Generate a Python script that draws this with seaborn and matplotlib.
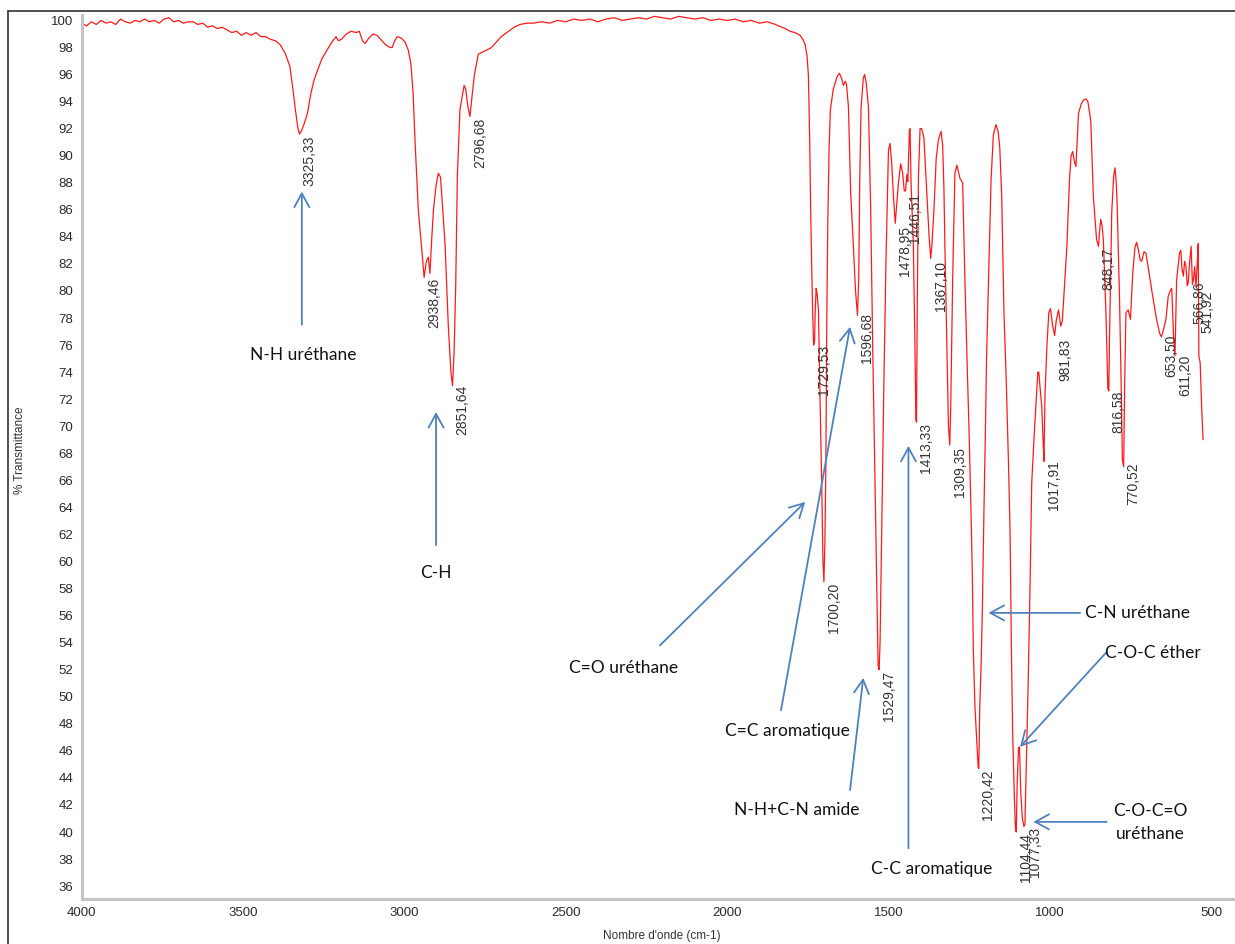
import matplotlib
matplotlib.use("Agg")
import matplotlib.pyplot as plt
from matplotlib.ticker import MultipleLocator
from matplotlib.lines import Line2D
import pandas as pd
import seaborn as sns

# -----------------------
# Spectrum
# -----------------------
wavenumber = [
    4000, 3985, 3970, 3955, 3940, 3925, 3910, 3895, 3880, 3865, 3850, 3835, 3820, 3805,
    3790, 3775, 3760, 3745, 3730, 3715, 3700, 3685, 3670, 3655, 3640, 3625, 3610, 3595,
    3580, 3565, 3550, 3535, 3520, 3505, 3490, 3475, 3460, 3445, 3430, 3415, 3400, 3385,
    3370, 3355, 3345, 3338, 3330, 3325, 3318, 3310, 3300, 3290, 3280, 3268, 3255, 3240,
    3225, 3212, 3205, 3195, 3180, 3165, 3150, 3140, 3130, 3122, 3110, 3097, 3085, 3070,
    3058, 3045, 3038, 3030, 3022, 3010, 2998, 2988, 2980, 2973, 2967, 2957, 2946, 2939,
    2932, 2926, 2921, 2915, 2910, 2902, 2895, 2888, 2880, 2874, 2864, 2856, 2851, 2846,
    2841, 2836, 2828, 2815, 2810, 2803, 2797, 2790, 2783, 2771, 2755, 2745, 2730, 2719,
    2700, 2683, 2660, 2642, 2620, 2600, 2575, 2550, 2525, 2500, 2475, 2450, 2425, 2400,
    2375, 2350, 2325, 2300, 2275, 2250, 2225, 2200, 2175, 2150, 2125, 2100, 2075, 2050,
    2025, 2000, 1975, 1950, 1925, 1900, 1875, 1850, 1836, 1820, 1805, 1790, 1774, 1765,
    1758, 1752, 1748, 1744, 1741, 1738, 1735, 1732, 1729, 1727, 1724, 1721, 1717, 1712,
    1707, 1703, 1700, 1697, 1694, 1691, 1688, 1684, 1680, 1671, 1660, 1652, 1645, 1640,
    1634, 1630, 1624, 1617, 1609, 1602, 1596, 1592, 1589, 1585, 1578, 1574, 1569, 1562,
    1555, 1549, 1541, 1536, 1532, 1529, 1526, 1521, 1514, 1508, 1500, 1495, 1490, 1485,
    1479, 1474, 1469, 1462, 1456, 1451, 1447, 1443, 1440, 1435, 1433, 1430, 1423, 1418,
    1415, 1413, 1411, 1407, 1402, 1397, 1390, 1381, 1374, 1369, 1365, 1359, 1352, 1345,
    1337, 1332, 1328, 1325, 1319, 1314, 1310, 1307, 1301, 1294, 1288, 1282, 1278, 1270,
    1263, 1256, 1250, 1244, 1240, 1237, 1232, 1226, 1222, 1220, 1217, 1213, 1209, 1204,
    1200, 1196, 1190, 1182, 1175, 1167, 1160, 1155, 1149, 1142, 1135, 1128, 1123, 1119,
    1115, 1111, 1107, 1104, 1101, 1097, 1094, 1090, 1085, 1080, 1077, 1074, 1067, 1061,
    1056, 1048, 1043, 1037, 1034, 1030, 1025, 1020, 1018, 1015, 1009, 1003, 998, 991,
    985, 980, 973, 966, 961, 958, 947, 939, 934, 929, 924, 919, 911, 903,
    896, 888, 882, 873, 865, 855, 849, 845, 842, 838, 834, 826, 820, 817,
    815, 808, 802, 798, 794, 791, 784, 779, 775, 771, 768, 764, 757, 750,
    743, 736, 731, 725, 720, 715, 708, 702, 692, 681, 669, 660, 654, 648,
    640, 633, 627, 622, 617, 612, 607, 598, 594, 590, 586, 582, 578, 574,
    571, 567, 562, 558, 555, 551, 547, 543, 540, 538, 534, 529, 525,
]
transmittance = [
    99.8, 99.6, 99.9, 99.7, 100.0, 99.8, 99.9, 99.7, 100.1, 99.9, 99.8, 100.0, 99.9, 100.1,
    99.9, 100.0, 99.8, 100.1, 100.2, 99.9, 100.0, 99.8, 99.9, 99.9, 99.7, 99.8, 99.5, 99.6,
    99.4, 99.5, 99.3, 99.1, 99.2, 98.9, 99.1, 98.9, 99.1, 98.8, 98.8, 98.6, 98.5, 98.2,
    97.6, 96.6, 94.8, 93.4, 92.0, 91.6, 91.9, 92.4, 93.2, 94.6, 95.6, 96.4, 97.2, 97.8,
    98.4, 98.8, 98.5, 98.6, 99.0, 99.2, 99.1, 99.2, 98.5, 98.3, 98.7, 99.0, 98.9, 98.5,
    98.2, 98.0, 98.0, 98.5, 98.8, 98.7, 98.4, 97.8, 96.8, 94.6, 91.0, 86.0, 83.0, 81.0,
    82.2, 82.5, 81.3, 84.0, 86.0, 87.8, 88.7, 88.4, 85.5, 83.4, 77.4, 74.0, 73.0, 75.5,
    80.5, 88.5, 93.4, 95.2, 94.9, 93.6, 92.9, 94.5, 96.0, 97.5, 97.7, 97.8, 98.0, 98.3,
    98.8, 99.1, 99.5, 99.7, 99.8, 99.8, 99.9, 99.8, 100.0, 99.9, 100.1, 100.0, 100.1, 99.9,
    100.1, 100.2, 100.0, 100.1, 100.2, 100.1, 100.3, 100.2, 100.1, 100.3, 100.2, 100.1, 100.2, 100.0,
    100.1, 100.0, 100.1, 99.9, 100.0, 99.8, 99.9, 99.7, 99.55, 99.4, 99.2, 99.1, 98.9, 98.6,
    98.2, 97.3, 95.9, 91.0, 86.0, 82.0, 78.6, 76.0, 76.3, 78.5, 80.2, 79.8, 78.6, 72.0,
    66.0, 60.0, 58.5, 61.4, 67.0, 78.0, 85.0, 90.5, 93.4, 94.9, 95.8, 96.1, 95.7, 95.2,
    95.5, 95.3, 93.6, 87.2, 83.5, 80.0, 78.2, 81.0, 88.0, 93.5, 95.7, 96.0, 95.4, 93.6,
    86.0, 76.2, 65.3, 57.9, 52.3, 52.0, 54.0, 62.3, 73.4, 81.8, 90.4, 90.9, 89.5, 87.2,
    85.0, 86.5, 88.0, 89.4, 88.7, 87.4, 87.4, 88.6, 88.1, 91.9, 92.0, 88.0, 83.5, 76.2,
    70.5, 70.3, 78.0, 88.5, 92.0, 92.0, 91.3, 87.2, 84.0, 82.4, 83.5, 86.0, 89.8, 91.2,
    91.8, 90.8, 87.5, 83.3, 75.9, 70.0, 68.6, 71.4, 80.8, 88.7, 89.3, 88.7, 88.3, 88.0,
    80.8, 74.5, 69.5, 63.5, 59.0, 53.5, 49.3, 46.6, 44.8, 44.7, 49.3, 52.2, 56.4, 63.8,
    69.0, 75.0, 80.8, 88.2, 91.5, 92.3, 91.8, 90.6, 87.0, 78.4, 73.4, 67.3, 62.1, 53.5,
    47.3, 43.6, 40.5, 40.0, 43.6, 46.2, 46.3, 43.0, 41.0, 40.4, 40.6, 43.6, 51.0, 58.4,
    65.8, 69.5, 71.5, 74.0, 74.0, 72.8, 71.5, 68.5, 67.4, 72.2, 75.9, 78.4, 78.7, 77.4,
    76.7, 77.8, 78.6, 77.4, 77.8, 78.9, 83.3, 88.2, 90.0, 90.3, 89.6, 89.2, 93.1, 93.8,
    94.1, 94.2, 94.0, 92.6, 87.0, 83.8, 83.3, 84.6, 85.3, 84.8, 83.8, 78.4, 72.8, 72.6,
    76.4, 85.8, 88.5, 89.1, 88.0, 86.2, 79.6, 73.4, 67.5, 67.0, 73.0, 78.4, 78.6, 77.9,
    81.3, 83.2, 83.6, 83.0, 82.3, 82.2, 82.9, 82.8, 81.3, 79.6, 77.9, 76.9, 76.6, 77.1,
    77.9, 79.6, 80.0, 80.2, 76.9, 75.2, 80.8, 82.8, 83.0, 81.6, 81.1, 82.2, 81.8, 80.4,
    80.6, 82.0, 83.3, 80.5, 80.8, 81.8, 80.3, 82.0, 83.5, 75.2, 74.7, 71.2, 69.0,
]

# peak labels: wavenumber and where the label starts (top of text)
peak_wn = [3325.33, 2938.46, 2851.64, 2796.68, 1729.53, 1700.20, 1596.68, 1529.47,
           1478.95, 1446.51, 1413.33, 1367.10, 1309.35, 1220.42, 1104.44, 1077.33,
           1017.91, 981.83, 848.17, 816.58, 770.52, 653.50, 611.20, 566.86, 541.92]
peak_top = [91.6, 81.1, 73.2, 92.9, 76.1, 58.5, 78.5, 52.0,
            84.9, 87.35, 70.35, 82.3, 68.6, 44.7, 40.0, 40.5,
            67.6, 76.6, 83.3, 72.7, 67.4, 76.9, 75.4, 80.8, 80.1]

# band assignments: text, text position, arrow tail, arrow head
band_text = ["N-H uréthane", "C-H", "C=O uréthane", "C=C aromatique", "N-H+C-N amide",
             "C-C aromatique", "C-N uréthane", "C-O-C éther", "C-O-C=O\nuréthane"]
band_text_pos = [(3314, 75.3), (2902, 59.15), (2322, 52.1), (1814, 47.5), (1783, 41.6),
                 (1365, 37.3), (891, 56.2), (829, 53.2), (689, 40.7)]
band_text_ha = ["center", "center", "center", "center", "center",
                "center", "left", "left", "center"]
arrow_tail = [(3318, 77.5), (2902, 61.2), (2208, 53.8), (1833, 49.0), (1619, 43.1),
              (1438, 38.8), (906, 56.2), (824, 53.3), (824, 40.75)]
arrow_head = [(3318, 87.35), (2902, 71.05), (1758, 64.4), (1619, 77.35), (1578, 51.4),
              (1438, 68.55), (1190, 56.2), (1092, 46.3), (1051, 40.75)]


def main():
    sns.set_style("white")
    plt.rcParams["font.family"] = ["Liberation Sans", "DejaVu Sans"]

    df = pd.DataFrame({"wn": wavenumber, "T": transmittance})

    fig = plt.figure(figsize=(12.35, 9.44), dpi=100)
    ax = fig.add_axes([0.0662, 0.0477, 0.9338, 0.9364])

    sns.lineplot(data=df, x="wn", y="T", color="#ff1a1a", linewidth=0.9,
                 estimator=None, ax=ax)

    ax.set_xlim(4000, 426)
    ax.set_ylim(35.05, 100.4)
    ax.set_xlabel("")
    ax.set_ylabel("")

    ax.xaxis.set_major_locator(MultipleLocator(500))
    ax.xaxis.set_minor_locator(MultipleLocator(100))
    ax.yaxis.set_major_locator(MultipleLocator(2))
    ax.yaxis.set_minor_locator(MultipleLocator(0.5))

    for side in ["top", "right"]:
        ax.spines[side].set_visible(False)
    for side in ["left", "bottom"]:
        ax.spines[side].set_color("#c4c4c4")
        ax.spines[side].set_linewidth(2.2)

    ax.tick_params(which="major", direction="out", length=4, width=1, color="#222222",
                   labelsize=9.5, labelcolor="#2a2a2a", pad=2)
    ax.tick_params(which="minor", direction="inout", length=2, width=1.3, color="#333333")
    ax.grid(False)

    # peak labels
    for wn, top in zip(peak_wn, peak_top):
        ax.annotate(f"{wn:.2f}".replace(".", ","), xy=(wn, top), xytext=(2, -1),
                    textcoords="offset points", rotation=90, ha="left", va="top",
                    fontsize=10, color="#333333")

    # band assignments
    blue = "#4f81bd"
    for txt, pos, ha, tail, head in zip(band_text, band_text_pos, band_text_ha,
                                        arrow_tail, arrow_head):
        ax.annotate("", xy=head, xytext=tail,
                    arrowprops=dict(arrowstyle="->,head_length=0.55,head_width=0.3",
                                    color=blue, lw=1.3, mutation_scale=18,
                                    shrinkA=0, shrinkB=0))
        ax.text(pos[0], pos[1], txt, ha=ha, va="center", fontsize=12.5,
                family=["Lato", "DejaVu Sans"], color="#111111", linespacing=1.6)

    fig.text(20 / 1235, 1 - 450 / 944, "% Transmittance", rotation=90,
             ha="center", va="center", fontsize=8.5, color="#333333")
    fig.text(662 / 1235, 1 - 936 / 944, "Nombre d'onde (cm-1)",
             ha="center", va="center", fontsize=8.5, color="#333333")

    # outer frame of the original screenshot
    fig.add_artist(Line2D([8 / 1235, 8 / 1235], [0, 1 - 10.7 / 944],
                          transform=fig.transFigure, color="#333333", lw=1.2))
    fig.add_artist(Line2D([8 / 1235, 1], [1 - 10.7 / 944, 1 - 10.7 / 944],
                          transform=fig.transFigure, color="#333333", lw=1.2))

    fig.savefig("out.png", dpi=100)
    plt.close(fig)


if __name__ == "__main__":
    main()
